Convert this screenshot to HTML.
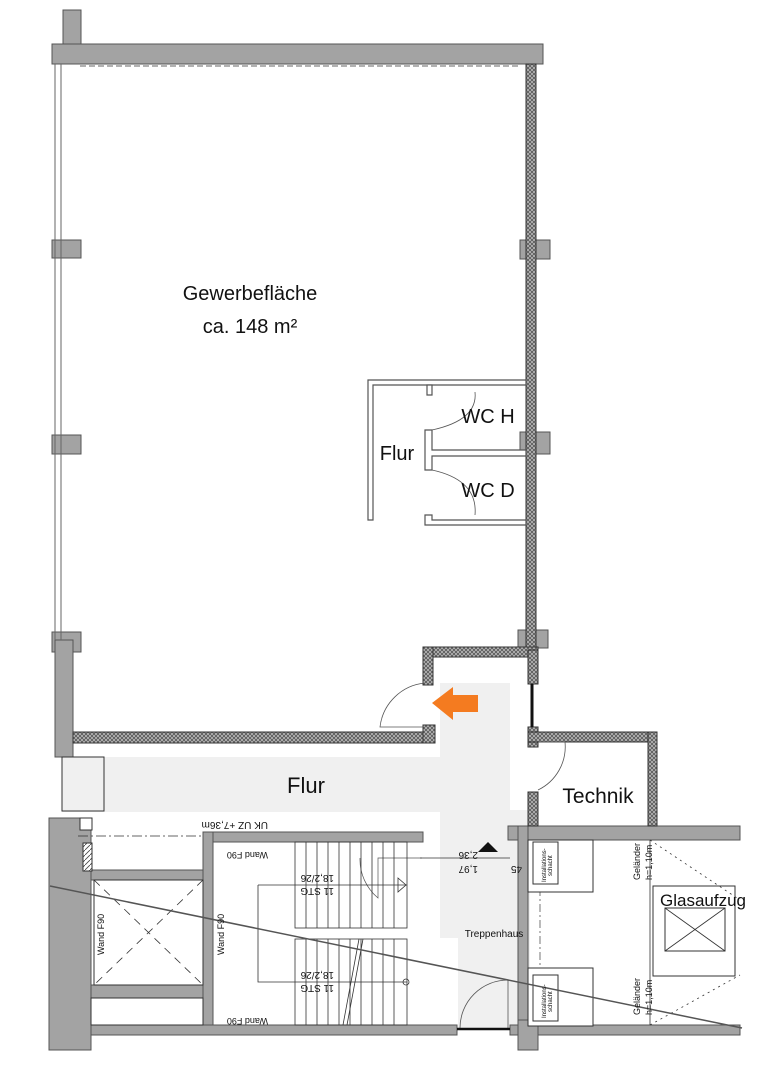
<!DOCTYPE html>
<html><head><meta charset="utf-8"><style>
html,body{margin:0;padding:0;background:#fff;}
svg{display:block}
text{font-family:"Liberation Sans",sans-serif;fill:#111}
</style></head><body>
<svg width="760" height="1080" viewBox="0 0 760 1080" xmlns="http://www.w3.org/2000/svg">
<defs>
<pattern id="h" width="4" height="4" patternUnits="userSpaceOnUse">
<rect width="4" height="4" fill="#bbb"/><path d="M0,4L4,0M0,0L4,4" stroke="#555" stroke-width="0.8"/>
</pattern>
<pattern id="d" width="5" height="5" patternUnits="userSpaceOnUse">
<rect width="5" height="5" fill="#fff"/><path d="M0,5L5,0" stroke="#444" stroke-width="0.8"/>
</pattern>
</defs>
<g fill="#f0f0f0">
<rect x="62" y="757" width="398" height="55"/>
<rect x="440" y="683" width="70" height="255"/>
<rect x="458" y="810" width="72" height="220"/>
</g>
<g fill="#a3a3a3" stroke="#555" stroke-width="1">
<!-- top wall -->
<rect x="63" y="10" width="18" height="38"/>
<rect x="52" y="44" width="491" height="20"/>
<!-- left pilasters -->
<rect x="52" y="240" width="29" height="18"/>
<rect x="52" y="435" width="29" height="19"/>
<rect x="52" y="632" width="29" height="20"/>
<rect x="55" y="640" width="18" height="117"/>
<!-- right pilasters -->
<rect x="520" y="240" width="30" height="19"/>
<rect x="520" y="432" width="30" height="22"/>
<rect x="518" y="630" width="30" height="18"/>
<!-- lower left wall -->
<rect x="49" y="818" width="42" height="232"/>
<rect x="91" y="870" width="122" height="10"/>
<rect x="91" y="985" width="122" height="13"/>
<rect x="203" y="832" width="220" height="10"/>
<rect x="203" y="832" width="10" height="200"/>
<rect x="91" y="1025" width="366" height="10"/>
<!-- right lower walls -->
<rect x="508" y="826" width="232" height="14"/>
<rect x="518" y="826" width="10" height="210"/>
<rect x="510" y="1025" width="230" height="10"/>
<rect x="518" y="1020" width="20" height="30"/>
</g>
<!-- window line left -->
<g stroke="#666" stroke-width="1" fill="none">
<line x1="55" y1="64" x2="55" y2="640"/><line x1="61" y1="64" x2="61" y2="640"/>
<line x1="80" y1="66" x2="520" y2="66" stroke-dasharray="6 3"/>
</g>
<!-- hatched walls -->
<g fill="url(#h)" stroke="#333" stroke-width="1">
<rect x="526" y="64" width="10" height="586"/>
<rect x="73" y="732" width="362" height="11"/>
<rect x="423" y="647" width="115" height="10"/>
<rect x="423" y="647" width="10" height="38"/>
<rect x="423" y="725" width="12" height="18"/>
<rect x="528" y="650" width="10" height="34"/>
<rect x="528" y="727" width="10" height="20"/>
<rect x="528" y="732" width="129" height="10"/>
<rect x="648" y="732" width="9" height="94"/>
<rect x="528" y="792" width="10" height="34"/>
</g>
<line x1="532" y1="684" x2="532" y2="727" stroke="#111" stroke-width="3"/>
<!-- WC walls -->
<g fill="#fff" stroke="#555" stroke-width="1.2">
<path d="M368,380H526V385H373V520H368Z"/>
<path d="M427,385V395H432V385Z"/>
<path d="M425,430H432V450H526V456H432V470H425Z"/>
<path d="M425,515H432V520H526V525H425Z"/>
</g>
<g fill="none" stroke="#555" stroke-width="0.8">
<path d="M475,392 Q478,420 432,430"/>
<path d="M432,470 Q478,480 475,515"/>
<path d="M425,683 A50,50 0 0 0 380,727 H423"/>
<path d="M538,742 H565 A48,48 0 0 1 538,790"/>
<path d="M422,858 H378 V898 A50,50 0 0 1 360,858" stroke-width="0.7"/>
<path d="M460,1028 A48,48 0 0 1 508,980 V1028"/>
<line x1="540" y1="840" x2="540" y2="1025" stroke-dasharray="8 3 2 3"/>
</g>
<!-- stairs -->
<g stroke="#333" stroke-width="0.8" fill="none">
<rect x="295" y="842" width="112" height="86"/>
<rect x="295" y="939" width="112" height="86"/>
<path d="M306,842V928M317,842V928M328,842V928M339,842V928M350,842V928M361,842V928M372,842V928M383,842V928M394,842V928"/>
<path d="M306,939V1025M317,939V1025M328,939V1025M339,939V1025M350,939V1025M361,939V1025M372,939V1025M383,939V1025M394,939V1025"/>
<path d="M258,885H407M258,885V982H407"/>
<path d="M398,878L406,885L398,892Z"/>
<circle cx="406" cy="982" r="3"/>
<path d="M359,939L343,1025M363,939L347,1025"/>
<line x1="420" y1="858" x2="510" y2="858"/>
<line x1="78" y1="836" x2="203" y2="836" stroke-dasharray="10 3 2 3"/>
</g>
<line x1="457" y1="1029" x2="510" y2="1029" stroke="#111" stroke-width="2.5"/>
<path d="M478,852L488,842L498,852Z" fill="#111"/>
<!-- elevator left -->
<g fill="#fff" stroke="#333" stroke-width="1">
<rect x="94" y="880" width="109" height="105"/>
<rect x="91" y="998" width="112" height="27"/>
<rect x="528" y="840" width="65" height="52"/>
<rect x="528" y="968" width="65" height="58"/>
<rect x="533" y="842" width="25" height="42"/>
<rect x="533" y="975" width="25" height="46"/>
<rect x="653" y="886" width="82" height="90"/>
<rect x="665" y="908" width="60" height="43"/>
<rect x="80" y="818" width="12" height="12"/>
<rect x="83" y="843" width="9" height="28" fill="url(#d)"/>
<rect x="62" y="757" width="42" height="54" fill="none"/>
</g>
<g stroke="#333" stroke-width="0.8" fill="none">
<path d="M665,908L725,951M725,908L665,951"/>
<path d="M94,880L203,985M203,880L94,985" stroke-dasharray="8 6"/>
<path d="M650,840L740,900M650,1025L740,975" stroke-dasharray="2 4"/>
<line x1="650" y1="840" x2="650" y2="1025"/>
</g>
<!-- diagonal -->
<line x1="50" y1="886" x2="742" y2="1028" stroke="#555" stroke-width="1.5"/>
<!-- orange arrow -->
<path d="M432,703 L453,687 V695 H478 V712 H453 V720 Z" fill="#f47b20"/>
<!-- labels -->
<text x="250" y="300" font-size="20" text-anchor="middle">Gewerbefläche</text>
<text x="250" y="333" font-size="20" text-anchor="middle">ca. 148 m²</text>
<text x="488" y="423" font-size="20" text-anchor="middle">WC H</text>
<text x="397" y="460" font-size="20" text-anchor="middle">Flur</text>
<text x="488" y="497" font-size="20" text-anchor="middle">WC D</text>
<text x="306" y="793" font-size="22" text-anchor="middle">Flur</text>
<text x="598" y="803" font-size="21" text-anchor="middle">Technik</text>
<text x="703" y="906" font-size="17" text-anchor="middle">Glasaufzug</text>
<text x="494" y="937" font-size="10" text-anchor="middle">Treppenhaus</text>
<g font-size="10" fill="#222">
<text transform="translate(268,822) rotate(180)">UK UZ +7,36m</text>
<text transform="translate(268,852) rotate(180)" font-size="9">Wand F90</text>
<text transform="translate(268,1018) rotate(180)" font-size="9">Wand F90</text>
<text transform="translate(334,875) rotate(180)">18,2/26</text>
<text transform="translate(334,888) rotate(180)">11 STG</text>
<text transform="translate(334,972) rotate(180)">18,2/26</text>
<text transform="translate(334,985) rotate(180)">11 STG</text>
<text transform="translate(104,955) rotate(-90)" font-size="9">Wand F90</text>
<text transform="translate(224,955) rotate(-90)" font-size="9">Wand F90</text>
<text transform="translate(478,852) rotate(180)">2,36</text>
<text transform="translate(478,866) rotate(180)">1,97</text>
<text transform="translate(522,866) rotate(180)">45</text>
<text transform="translate(640,880) rotate(-90)" font-size="9">Geländer</text>
<text transform="translate(652,880) rotate(-90)" font-size="9">h=1,10m</text>
<text transform="translate(640,1015) rotate(-90)" font-size="9">Geländer</text>
<text transform="translate(652,1015) rotate(-90)" font-size="9">h=1,10m</text>
<text transform="translate(546,882) rotate(-90)" font-size="6">Installations-</text>
<text transform="translate(552,876) rotate(-90)" font-size="6">schacht</text>
<text transform="translate(546,1018) rotate(-90)" font-size="6">Installations-</text>
<text transform="translate(552,1012) rotate(-90)" font-size="6">schacht</text>
</g>
</svg>
</body></html>
